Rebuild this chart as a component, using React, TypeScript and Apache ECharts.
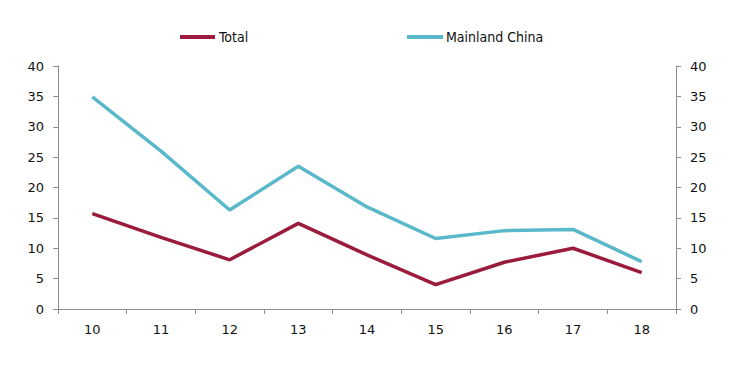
import React, { useEffect, useRef } from "react";
import * as echarts from "echarts";

const categories = ["10", "11", "12", "13", "14", "15", "16", "17", "18"];
const totalValues = [15.7, 11.8, 8.1, 14.1, 8.9, 4.0, 7.7, 10.0, 6.0];
const mainlandValues = [34.9, 26.0, 16.3, 23.5, 16.8, 11.6, 12.9, 13.1, 7.8];
const yTicks = { min: 0, max: 40, interval: 5 };

const axisColor = "#8c8c8c";
const labelFont = { fontFamily: "DejaVu Sans", fontSize: 13, color: "#111" };
const legendFont = { fontFamily: "DejaVu Sans Condensed", fontSize: 14, color: "#111" };

export default function App() {
  const ref = useRef<HTMLDivElement>(null);
  useEffect(() => {
    if (!ref.current) return;
    const chart = echarts.init(ref.current, null, { renderer: "svg" });
    const yAxisBase = {
      type: "value" as const,
      min: yTicks.min,
      max: yTicks.max,
      interval: yTicks.interval,
      splitLine: { show: false },
      axisLine: { show: true, lineStyle: { color: axisColor, width: 1 } },
      axisTick: { show: true, length: 5, lineStyle: { color: axisColor } },
      axisLabel: { ...labelFont, margin: 14 },
    };
    chart.setOption({
      animation: false,
      backgroundColor: "#fff",
      grid: { left: 58, right: 67, top: 66, bottom: 57, containLabel: false },
      legend: [
        {
          data: ["Total"],
          left: 175,
          top: 25,
          itemWidth: 35,
          itemHeight: 4,
          icon: "rect",
          textStyle: { ...legendFont, padding: [0, 0, 0, -1] },
        },
        {
          data: ["Mainland China"],
          left: 402,
          top: 25,
          itemWidth: 36,
          itemHeight: 4,
          icon: "rect",
          textStyle: { ...legendFont, padding: [0, 0, 0, -2] },
        },
      ],
      xAxis: {
        type: "category",
        data: categories,
        boundaryGap: true,
        axisLine: { show: true, lineStyle: { color: axisColor, width: 1 } },
        axisTick: { show: true, length: 5, alignWithLabel: false, lineStyle: { color: axisColor } },
        axisLabel: { ...labelFont, margin: 14 },
        splitLine: { show: false },
      },
      yAxis: [
        { ...yAxisBase, position: "left" },
        { ...yAxisBase, position: "right" },
      ],
      series: [
        {
          name: "Total",
          type: "line",
          data: totalValues,
          yAxisIndex: 0,
          symbol: "none",
          lineStyle: { color: "#9b1b3c", width: 3.5 },
          itemStyle: { color: "#9b1b3c" },
        },
        {
          name: "Mainland China",
          type: "line",
          data: mainlandValues,
          yAxisIndex: 1,
          symbol: "none",
          lineStyle: { color: "#5ab8cb", width: 3.5 },
          itemStyle: { color: "#5ab8cb" },
        },
      ],
    });
    return () => chart.dispose();
  }, []);
  return (
    <div
      ref={ref}
      style={{ position: "fixed", left: 0, top: 0, width: 743, height: 366 }}
    />
  );
}
